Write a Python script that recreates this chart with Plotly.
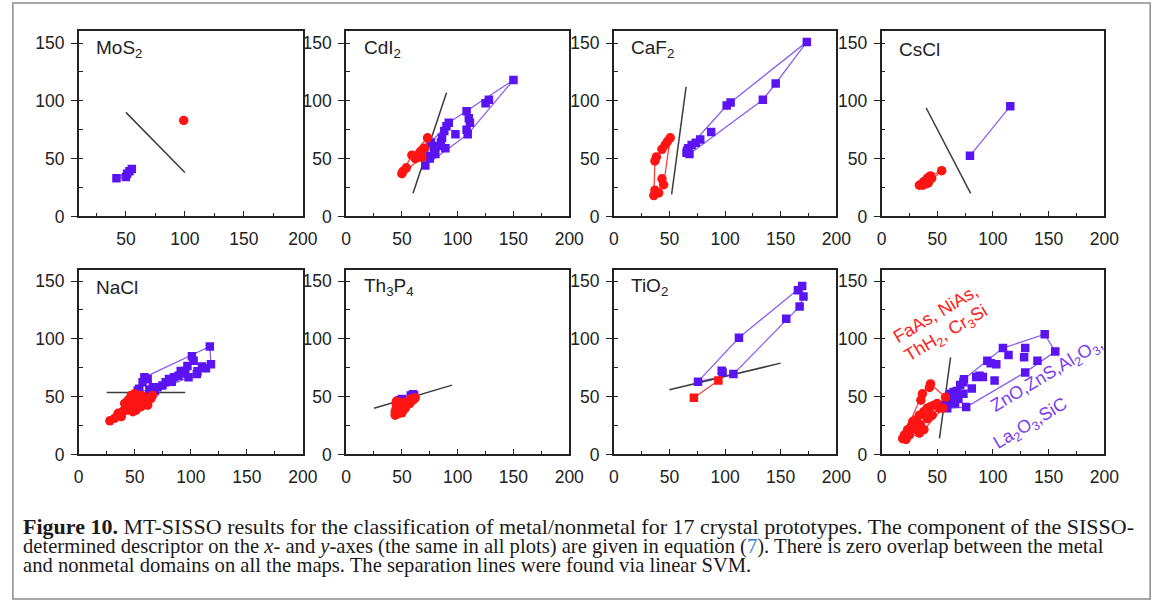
import plotly.graph_objects as go

W, H = 1176, 612

# ---------------- data (descriptor d1 on x, d2 on y) ----------------
# MoS2
mos2_non_x = [42, 50, 51, 53, 55]
mos2_non_y = [33, 34, 37, 39, 41]
mos2_met_x = [99]
mos2_met_y = [83]
mos2_svm_x = [50, 100]
mos2_svm_y = [90, 38]

# CdI2
cdi2_non_x = [150, 128, 125, 108, 110, 111, 108, 109, 92, 90, 88, 98, 86, 85, 82, 89, 79, 76, 80, 75, 71, 75]
cdi2_non_y = [118, 101, 98, 91, 85, 81, 75, 71, 81, 78, 74, 71, 68, 64, 61, 59, 58, 64, 54, 50, 44, 52]
cdi2_met_x = [73, 70, 66, 59, 64, 68, 54, 51, 50, 67, 62]
cdi2_met_y = [68, 59, 54, 53, 51, 51, 42, 39, 37, 56, 50]
cdi2_svm_x = [60, 90]
cdi2_svm_y = [20, 107]

# CaF2
caf2_non_x = [173.5, 145.5, 134, 105, 101.5, 87.5, 77.7, 73.7, 70, 67, 65.4, 68, 66]
caf2_non_y = [151, 115, 101, 98.5, 96, 73, 66.5, 63.7, 61.7, 59, 55, 54, 57]
caf2_met_x = [50.7, 48.3, 46.3, 43.3, 38.3, 37, 43.3, 44.8, 40.4, 37, 36]
caf2_met_y = [68, 65, 62, 58, 51.5, 48, 32.5, 27.4, 20.4, 22.7, 18]
caf2_svm_x = [52, 65]
caf2_svm_y = [19, 112]

# CsCl
cscl_non_x = [79.4, 115.6]
cscl_non_y = [52.4, 95.4]
cscl_met_x = [34, 36, 38, 40, 41, 43, 44, 42, 39, 54, 37, 45]
cscl_met_y = [27, 28, 30, 31, 33, 34, 35, 29, 28, 39.6, 27, 33]
cscl_svm_x = [40, 80]
cscl_svm_y = [94, 20]

# NaCl
nacl_non_x = [117, 118, 113.5, 101, 102.5, 97, 95, 91, 89, 85, 80.6, 77.6, 74.7, 70.3, 66, 63,
              58.6, 61.5, 57, 54, 52.7, 105.4, 98, 110, 106, 93, 83, 68]
nacl_non_y = [93.5, 78, 74.6, 85, 81, 76.6, 72.3, 72.3, 68, 66.7, 65.3, 62.5, 59.6, 58.2, 58.2, 56,
              66.7, 65.3, 62.5, 56.8, 55.4, 69.5, 66.7, 76, 72, 70, 63, 55]
nacl_met_x = [27.8, 32.2, 35.1, 39.5, 42.4, 46.8, 49.8, 52.7, 55.6, 46.8, 49.8, 43.9, 41, 45.4,
              51.2, 55.6, 60, 64.4, 65.9, 58.6, 52.7, 38, 48.3, 61.5]
nacl_met_y = [29.1, 31.4, 35.6, 37, 39.8, 42.6, 45.5, 48.3, 51.1, 51.1, 52.5, 46.9, 44.1, 38.4,
              38.4, 41.3, 45.5, 48.3, 51.1, 49.7, 44.1, 32.8, 37, 42.6]
nacl_svm_x = [25, 95]
nacl_svm_y = [53.5, 53.5]

# Th3P4
th3p4_non_x = [48, 50, 58, 60, 61]
th3p4_non_y = [47, 48, 51, 52, 51]
th3p4_met_x = [44, 44, 45, 45, 45, 47, 48, 49, 50, 51, 52, 53, 55, 56, 58, 62, 46, 50, 48, 53, 57, 60]
th3p4_met_y = [34, 37, 40, 43, 46, 36, 39, 42, 44, 38, 41, 45, 43, 46, 48, 49, 35, 36, 45, 40, 44, 47]
th3p4_svm_x = [25, 95]
th3p4_svm_y = [40, 60]

# TiO2
tio2_non_x = [169.3, 165.5, 170.5, 167, 155, 112.5, 107.5, 97.8, 97, 75.7]
tio2_non_y = [145.8, 142, 136.7, 128, 117.5, 101, 69.5, 71, 72.5, 63]
tio2_met_x = [72, 94]
tio2_met_y = [49, 64]
tio2_svm_x = [50, 150]
tio2_svm_y = [56, 79]

# remaining prototypes (FeAs, NiAs, ThH2, Cr3Si / ZnO, ZnS, Al2O3, La2O3, SiC)
rest_non_x = [146.5, 156, 129, 128, 114, 109, 140, 129, 103, 101.5, 88, 85, 91, 81, 76, 73.5, 70.6,
              67.6, 64.7, 61.8, 63, 60, 57, 66, 69, 73.5, 59, 95, 98, 57, 74]
rest_non_y = [104, 89, 92, 84, 86, 92, 81, 71, 78, 64, 68, 67, 67, 57, 41, 62.5, 60,
              55, 54, 52.5, 50, 47, 43, 44, 48, 52.5, 40, 81, 79, 41, 65]
rest_met_x = [44, 43, 36.7, 35.3, 57.4, 47, 44, 41, 38, 34, 31, 28, 26.5, 23.5, 20.6, 19, 35, 38,
              34, 50, 51.5, 45.5, 41, 55, 30, 25, 22]
rest_met_y = [61, 58, 52.5, 47, 49.5, 42.6, 41.3, 40, 37, 34, 30, 28.5, 24, 21.4, 17, 13.6, 25.7, 21.4,
              18.5, 44, 40, 34, 31, 40, 22, 17, 13]
rest_svm_x = [52, 62]
rest_svm_y = [14, 84]

panel_titles = ["MoS<sub>2</sub>", "CdI<sub>2</sub>", "CaF<sub>2</sub>", "CsCl",
                "NaCl", "Th<sub>3</sub>P<sub>4</sub>", "TiO<sub>2</sub>", ""]
x_ranges = [[10, 200]] + [[0, 200]] * 7
y_range = [0, 160]

caption_lines = [
    "<b>Figure 10.</b> MT-SISSO results for the classification of metal/nonmetal for 17 crystal prototypes. The component of the SISSO-",
    "determined descriptor on the <i>x</i>- and <i>y</i>-axes (the same in all plots) are given in equation "
    "(<span style='color:#2b7bd0;font-style:normal'>7</span>). There is zero overlap between the metal",
    "and nonmetal domains on all the maps. The separation lines were found via linear SVM.",
]
caption_sizes = [22.0, 20.6, 20.6]
caption_rows = [535, 555.5, 575]

panels = [
    (mos2_non_x, mos2_non_y, mos2_met_x, mos2_met_y, mos2_svm_x, mos2_svm_y, "circle"),
    (cdi2_non_x, cdi2_non_y, cdi2_met_x, cdi2_met_y, cdi2_svm_x, cdi2_svm_y, "circle"),
    (caf2_non_x, caf2_non_y, caf2_met_x, caf2_met_y, caf2_svm_x, caf2_svm_y, "circle"),
    (cscl_non_x, cscl_non_y, cscl_met_x, cscl_met_y, cscl_svm_x, cscl_svm_y, "circle"),
    (nacl_non_x, nacl_non_y, nacl_met_x, nacl_met_y, nacl_svm_x, nacl_svm_y, "circle"),
    (th3p4_non_x, th3p4_non_y, th3p4_met_x, th3p4_met_y, th3p4_svm_x, th3p4_svm_y, "circle"),
    (tio2_non_x, tio2_non_y, tio2_met_x, tio2_met_y, tio2_svm_x, tio2_svm_y, "square"),
    (rest_non_x, rest_non_y, rest_met_x, rest_met_y, rest_svm_x, rest_svm_y, "circle"),
]

# ---------------- styling ----------------
BLUE = "#5a14f2"
BLUE_LINE = "#8a62f2"
RED = "#ff1414"
RED_LINE = "#ff3c3c"
AXIS = "#222222"
SANS = "Liberation Sans, Arial, sans-serif"
SERIF = "Liberation Serif, Times New Roman, serif"

# panel boxes in pixels (left, right) and rows (top, bottom)
col_px = [(75, 303), (347, 574), (619.3, 845.7), (891.7, 1118.3)]
row_px = [(32, 220), (274, 462)]


def hull(xs, ys):
    """Convex hull (monotone chain), returned as a closed outline."""
    pts = sorted(set(zip(xs, ys)))
    if len(pts) <= 2:
        return [p[0] for p in pts], [p[1] for p in pts]

    def cross(o, a, b):
        return (a[0] - o[0]) * (b[1] - o[1]) - (a[1] - o[1]) * (b[0] - o[0])

    lower, upper = [], []
    for p in pts:
        while len(lower) >= 2 and cross(lower[-2], lower[-1], p) <= 0:
            lower.pop()
        lower.append(p)
    for p in reversed(pts):
        while len(upper) >= 2 and cross(upper[-2], upper[-1], p) <= 0:
            upper.pop()
        upper.append(p)
    ring = lower[:-1] + upper[:-1]
    ring.append(ring[0])
    return [p[0] for p in ring], [p[1] for p in ring]


fig = go.Figure()
layout = dict(
    width=W, height=H, margin=dict(l=0, r=0, t=0, b=0),
    paper_bgcolor="white", plot_bgcolor="white", showlegend=False,
    annotations=[], shapes=[],
)

for i, (nx, ny, mx, my, sx, sy, msym) in enumerate(panels):
    r, c = divmod(i, 4)
    k = "" if i == 0 else str(i + 1)
    xa, ya = "x" + k, "y" + k
    l_px, r_px = col_px[c]
    t_px, b_px = row_px[r]

    layout["xaxis" + k] = dict(
        domain=[l_px / W, r_px / W], range=x_ranges[i], anchor=ya,
        showline=True, mirror=True, linecolor=AXIS, linewidth=1.6,
        ticks="inside", ticklen=6, tickwidth=1.4, tickcolor=AXIS,
        tick0=0, dtick=50, showgrid=False, zeroline=False,
        tickfont=dict(family=SANS, size=17.5, color="#222"),
        ticklabelstandoff=6,
        minor=dict(dtick=25, ticks="inside", ticklen=4, tickwidth=1.4, tickcolor=AXIS, showgrid=False),
    )
    layout["yaxis" + k] = dict(
        domain=[1 - b_px / H, 1 - t_px / H], range=y_range, anchor=xa,
        showline=True, mirror=True, linecolor=AXIS, linewidth=1.6,
        ticks="outside", ticklen=6, tickwidth=1.4, tickcolor=AXIS,
        tick0=0, dtick=50, showgrid=False, zeroline=False,
        tickfont=dict(family=SANS, size=17.5, color="#222"),
        ticklabelstandoff=3,
        minor=dict(dtick=25, ticks="inside", ticklen=4, tickwidth=1.4, tickcolor=AXIS, showgrid=False),
    )

    # hull outlines of both classes
    hx, hy = hull(nx, ny)
    fig.add_trace(go.Scatter(x=hx, y=hy, mode="lines", xaxis=xa, yaxis=ya,
                             line=dict(color=BLUE_LINE, width=1.3), hoverinfo="skip"))
    hx, hy = hull(mx, my)
    fig.add_trace(go.Scatter(x=hx, y=hy, mode="lines", xaxis=xa, yaxis=ya,
                             line=dict(color=RED_LINE, width=1.3), hoverinfo="skip"))
    # SVM separation line
    fig.add_trace(go.Scatter(x=sx, y=sy, mode="lines", xaxis=xa, yaxis=ya,
                             line=dict(color="#3c3c3c", width=1.5)))
    # compounds
    fig.add_trace(go.Scatter(x=nx, y=ny, mode="markers", xaxis=xa, yaxis=ya,
                             marker=dict(symbol="square", size=8.5, color=BLUE, line=dict(width=0))))
    fig.add_trace(go.Scatter(x=mx, y=my, mode="markers", xaxis=xa, yaxis=ya,
                             marker=dict(symbol=msym, size=9.5 if msym == "circle" else 8.5,
                                         color=RED, line=dict(width=0))))

    if panel_titles[i]:
        layout["annotations"].append(dict(
            text=panel_titles[i], xref=xa + " domain", yref=ya + " domain",
            x=0.07, y=0.905, xanchor="left", yanchor="middle", showarrow=False,
            font=dict(family=SANS, size=19, color="#222"),
        ))

# group labels in the last panel
for txt, x, y, col in [
    ("FaAs, NiAs,", 48.5, 121.8, "#ff2020"),
    ("ThH<sub>2</sub>, Cr<sub>3</sub>Si", 57.9, 104, "#ff2020"),
    ("ZnO,ZnS,Al<sub>2</sub>O<sub>3</sub>,", 149.2, 68, "#7a40f0"),
    ("La<sub>2</sub>O<sub>3</sub>,SiC", 133.8, 25.7, "#7a40f0"),
]:
    layout["annotations"].append(dict(
        text=txt, xref="x8", yref="y8", x=x, y=y, textangle=-31,
        showarrow=False, font=dict(family=SANS, size=18, color=col),
    ))

# caption
for line, fs, row in zip(caption_lines, caption_sizes, caption_rows):
    layout["annotations"].append(dict(
        text=line, xref="paper", yref="paper", x=16 / W, y=1 - row / H,
        xanchor="left", yanchor="middle", showarrow=False, align="left",
        font=dict(family=SERIF, size=fs, color="#1a1a1a"),
    ))

# outer frame
layout["shapes"].append(dict(
    type="rect", xref="paper", yref="paper",
    x0=8 / W, x1=1165 / W, y0=1 - 609 / H, y1=1 - 3 / H,
    line=dict(color="#8c8c8c", width=1.5), fillcolor="rgba(0,0,0,0)",
))

fig.update_layout(**layout)
fig.write_html("out.html")
